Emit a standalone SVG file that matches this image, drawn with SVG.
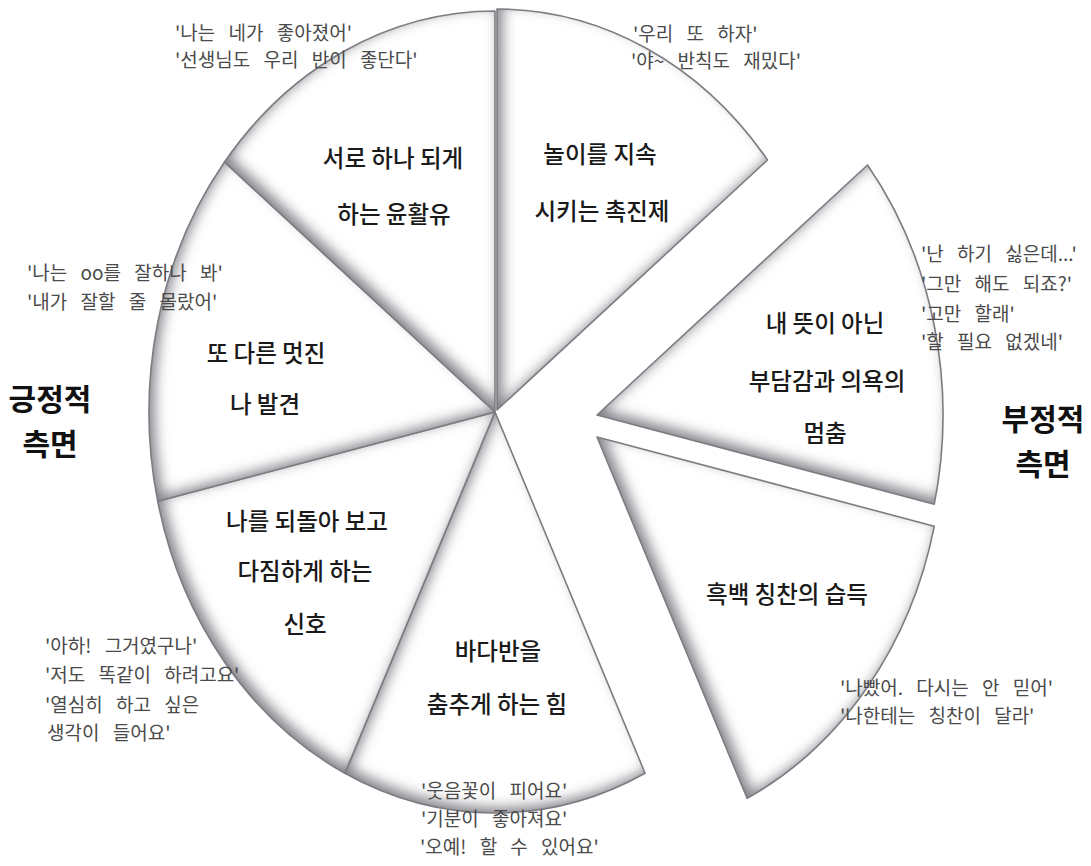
<svg xmlns="http://www.w3.org/2000/svg" width="1091" height="866" viewBox="0 0 1091 866">
<style>
.slice{fill:#ffffff;filter:url(#bevel)}
.edge{fill:none;stroke:#7c7c82;stroke-width:1.6;stroke-linejoin:round}
.lbl{font-family:"Noto Sans CJK KR","Noto Sans",sans-serif;font-size:23.5px;fill:#1a1a1a;text-anchor:middle;font-weight:500}
.q{font-family:"Noto Sans CJK KR","Noto Sans",sans-serif;font-size:19px;fill:#4a4a4a;word-spacing:9px}
.side{font-family:"Noto Sans CJK KR","Noto Sans",sans-serif;font-size:30px;font-weight:bold;fill:#111;text-anchor:middle}
</style>
<defs>
<filter id="bevel" x="-10%" y="-10%" width="120%" height="120%" color-interpolation-filters="sRGB">
<feComponentTransfer in="SourceAlpha" result="inv"><feFuncA type="table" tableValues="1 0"/></feComponentTransfer>
<feGaussianBlur in="inv" stdDeviation="7" result="blur"/>
<feOffset in="blur" dx="5" dy="-5" result="off"/>
<feFlood flood-color="#66666f" flood-opacity="0.85"/>
<feComposite in2="off" operator="in" result="sh"/>
<feComposite in="sh" in2="SourceAlpha" operator="in" result="inner"/>
<feMerge><feMergeNode in="SourceGraphic"/><feMergeNode in="inner"/></feMerge>
</filter>
</defs>
<rect width="1091" height="866" fill="#ffffff"/>

<g id="slice-play">
<path class="slice" d="M497,410 L497,9 A346,401 0 0 1 767.5,160 Z"/>
<path class="edge" d="M497,410 L497,9 A346,401 0 0 1 767.5,160 Z"/>
<text class="lbl" x="600" y="163">놀이를 지속</text>
<text class="lbl" x="602" y="220">시키는 촉진제</text>
<text class="q" x="633" y="41">'우리 또 하자'</text>
<text class="q" x="631" y="68">'야~ 반칙도 재밌다'</text>
</g>

<g id="slice-stop">
<path class="slice" d="M597,415 L867.5,165 A346,401 0 0 1 934.3,504.2 Z"/>
<path class="edge" d="M597,415 L867.5,165 A346,401 0 0 1 934.3,504.2 Z"/>
<text class="lbl" x="825" y="332">내 뜻이 아닌</text>
<text class="lbl" x="827" y="390">부담감과 의욕의</text>
<text class="lbl" x="825" y="442">멈춤</text>
<text class="q" x="921" y="261">'난 하기 싫은데...'</text>
<text class="q" x="921" y="291">'그만 해도 되죠?'</text>
<text class="q" x="921" y="321">'고만 할래'</text>
<text class="q" x="921" y="349">'할 필요 없겠네'</text>
</g>

<g id="slice-praise">
<path class="slice" d="M597,437 L934.3,526.2 A346,401 0 0 1 747.1,798.3 Z"/>
<path class="edge" d="M597,437 L934.3,526.2 A346,401 0 0 1 747.1,798.3 Z"/>
<text class="lbl" x="787" y="603">흑백 칭찬의 습득</text>
<text class="q" x="840" y="695">'나빴어. 다시는 안 믿어'</text>
<text class="q" x="840" y="723">'나한테는 칭찬이 달라'</text>
</g>

<g id="slice-dance">
<path class="slice" d="M495,412 L645.1,773.3 A346,401 0 0 1 344.9,773.3 Z"/>
<path class="edge" d="M495,412 L645.1,773.3 A346,401 0 0 1 344.9,773.3 Z"/>
<text class="lbl" x="498" y="660">바다반을</text>
<text class="lbl" x="497" y="713">춤추게 하는 힘</text>
<text class="q" x="421" y="798">'웃음꽃이 피어요'</text>
<text class="q" x="421" y="826">'기분이 좋아져요'</text>
<text class="q" x="420" y="854">'오예! 할 수 있어요'</text>
</g>

<g id="slice-signal">
<path class="slice" d="M495,412 L344.9,773.3 A346,401 0 0 1 157.7,501.2 Z"/>
<path class="edge" d="M495,412 L344.9,773.3 A346,401 0 0 1 157.7,501.2 Z"/>
<text class="lbl" x="307" y="530">나를 되돌아 보고</text>
<text class="lbl" x="305" y="580">다짐하게 하는</text>
<text class="lbl" x="305" y="633">신호</text>
<text class="q" x="45" y="653">'아하! 그거였구나'</text>
<text class="q" x="45" y="682">'저도 똑같이 하려고요'</text>
<text class="q" x="45" y="712">'열심히 하고 싶은</text>
<text class="q" x="47" y="740">생각이 들어요'</text>
</g>

<g id="slice-discover">
<path class="slice" d="M495,412 L157.7,501.2 A346,401 0 0 1 224.5,162 Z"/>
<path class="edge" d="M495,412 L157.7,501.2 A346,401 0 0 1 224.5,162 Z"/>
<text class="lbl" x="266" y="362">또 다른 멋진</text>
<text class="lbl" x="265" y="413">나 발견</text>
<text class="q" x="27" y="280">'나는 oo를 잘하나 봐'</text>
<text class="q" x="27" y="309">'내가 잘할 줄 몰랐어'</text>
</g>

<g id="slice-bond">
<path class="slice" d="M495,412 L224.5,162 A346,401 0 0 1 495,11 Z"/>
<path class="edge" d="M495,412 L224.5,162 A346,401 0 0 1 495,11 Z"/>
<text class="lbl" x="393" y="167">서로 하나 되게</text>
<text class="lbl" x="394" y="223">하는 윤활유</text>
<text class="q" x="175" y="40">'나는 네가 좋아졌어'</text>
<text class="q" x="175" y="67">'선생님도 우리 반이 좋단다'</text>
</g>

<g id="label-positive">
<text class="side" x="50" y="410">긍정적</text>
<text class="side" x="50" y="455">측면</text>
</g>

<g id="label-negative">
<text class="side" x="1043" y="430">부정적</text>
<text class="side" x="1043" y="475">측면</text>
</g>
</svg>
